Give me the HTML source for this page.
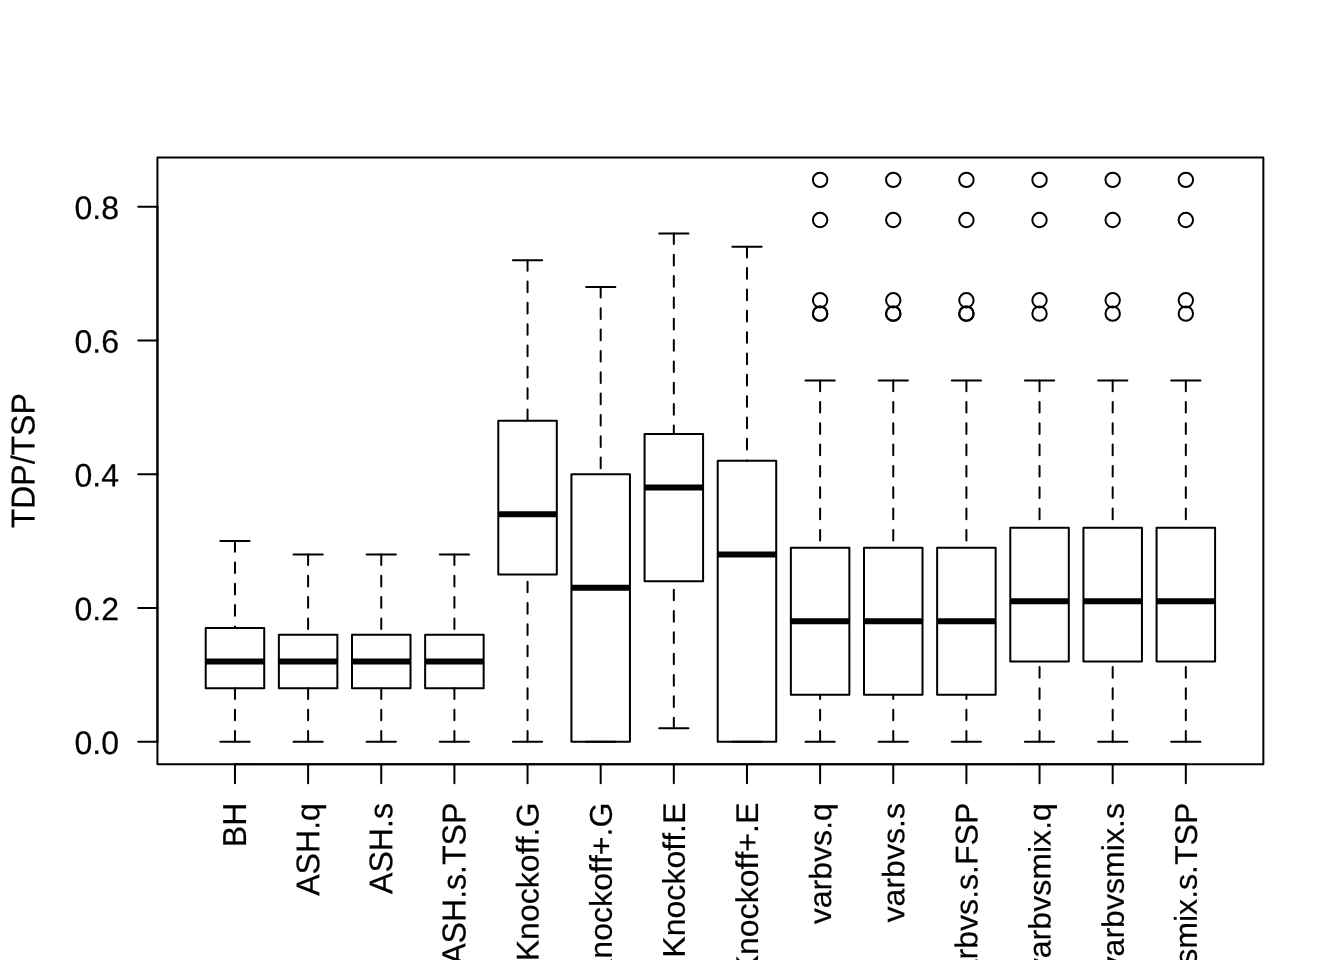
<!DOCTYPE html>
<html lang="en">
<head>
<meta charset="utf-8">
<title>TDP/TSP</title>
<style>
html,body{margin:0;padding:0;background:#fff;}
body{width:1344px;height:960px;overflow:hidden;}
svg{display:block;}
</style>
</head>
<body>
<svg width="1344" height="960" viewBox="0 0 1344 960">
<rect width="1344" height="960" fill="#fff"/>
<g fill="none" stroke="#000" stroke-width="2.00" stroke-linecap="round" stroke-linejoin="round">
<path d="M205.71 688.19H264.23V628.00H205.71Z"/>
<path stroke-width="6" stroke-linecap="butt" d="M205.71 661.43H264.23"/>
<path stroke-dasharray="10.667 10.667" d="M234.97 741.69V688.19"/>
<path d="M220.34 741.69H249.60"/>
<path stroke-dasharray="10.667 10.667" d="M234.97 541.05V628.00"/>
<path d="M220.34 541.05H249.60"/>
<path d="M278.86 688.19H337.37V634.68H278.86Z"/>
<path stroke-width="6" stroke-linecap="butt" d="M278.86 661.43H337.37"/>
<path stroke-dasharray="10.667 10.667" d="M308.11 741.69V688.19"/>
<path d="M293.49 741.69H322.74"/>
<path stroke-dasharray="10.667 10.667" d="M308.11 554.43V634.68"/>
<path d="M293.49 554.43H322.74"/>
<path d="M352.00 688.19H410.51V634.68H352.00Z"/>
<path stroke-width="6" stroke-linecap="butt" d="M352.00 661.43H410.51"/>
<path stroke-dasharray="10.667 10.667" d="M381.26 741.69V688.19"/>
<path d="M366.63 741.69H395.89"/>
<path stroke-dasharray="10.667 10.667" d="M381.26 554.43V634.68"/>
<path d="M366.63 554.43H395.89"/>
<path d="M425.14 688.19H483.66V634.68H425.14Z"/>
<path stroke-width="6" stroke-linecap="butt" d="M425.14 661.43H483.66"/>
<path stroke-dasharray="10.667 10.667" d="M454.40 741.69V688.19"/>
<path d="M439.77 741.69H469.03"/>
<path stroke-dasharray="10.667 10.667" d="M454.40 554.43V634.68"/>
<path d="M439.77 554.43H469.03"/>
<path d="M498.29 574.49H556.80V420.67H498.29Z"/>
<path stroke-width="6" stroke-linecap="butt" d="M498.29 514.30H556.80"/>
<path stroke-dasharray="10.667 10.667" d="M527.54 741.69V574.49"/>
<path d="M512.91 741.69H542.17"/>
<path stroke-dasharray="10.667 10.667" d="M527.54 260.17V420.67"/>
<path d="M512.91 260.17H542.17"/>
<path d="M571.43 741.69H629.94V474.18H571.43Z"/>
<path stroke-width="6" stroke-linecap="butt" d="M571.43 587.87H629.94"/>
<path d="M586.06 741.69H615.31"/>
<path stroke-dasharray="10.667 10.667" d="M600.69 286.92V474.18"/>
<path d="M586.06 286.92H615.31"/>
<path d="M644.57 581.18H703.09V434.05H644.57Z"/>
<path stroke-width="6" stroke-linecap="butt" d="M644.57 487.55H703.09"/>
<path stroke-dasharray="10.667 10.667" d="M673.83 728.31V581.18"/>
<path d="M659.20 728.31H688.46"/>
<path stroke-dasharray="10.667 10.667" d="M673.83 233.41V434.05"/>
<path d="M659.20 233.41H688.46"/>
<path d="M717.71 741.69H776.23V460.80H717.71Z"/>
<path stroke-width="6" stroke-linecap="butt" d="M717.71 554.43H776.23"/>
<path d="M732.34 741.69H761.60"/>
<path stroke-dasharray="10.667 10.667" d="M746.97 246.79V460.80"/>
<path d="M732.34 246.79H761.60"/>
<path d="M790.86 694.87H849.37V547.74H790.86Z"/>
<path stroke-width="6" stroke-linecap="butt" d="M790.86 621.31H849.37"/>
<path stroke-dasharray="10.667 10.667" d="M820.11 741.69V694.87"/>
<path d="M805.49 741.69H834.74"/>
<path stroke-dasharray="10.667 10.667" d="M820.11 380.55V547.74"/>
<path d="M805.49 380.55H834.74"/>
<circle cx="820.11" cy="313.67" r="7.2"/>
<circle cx="820.11" cy="300.29" r="7.2"/>
<circle cx="820.11" cy="220.04" r="7.2"/>
<circle cx="820.11" cy="179.91" r="7.2"/>
<circle cx="820.11" cy="313.67" r="7.2"/>
<path d="M864.00 694.87H922.51V547.74H864.00Z"/>
<path stroke-width="6" stroke-linecap="butt" d="M864.00 621.31H922.51"/>
<path stroke-dasharray="10.667 10.667" d="M893.26 741.69V694.87"/>
<path d="M878.63 741.69H907.89"/>
<path stroke-dasharray="10.667 10.667" d="M893.26 380.55V547.74"/>
<path d="M878.63 380.55H907.89"/>
<circle cx="893.26" cy="313.67" r="7.2"/>
<circle cx="893.26" cy="300.29" r="7.2"/>
<circle cx="893.26" cy="220.04" r="7.2"/>
<circle cx="893.26" cy="179.91" r="7.2"/>
<circle cx="893.26" cy="313.67" r="7.2"/>
<path d="M937.14 694.87H995.66V547.74H937.14Z"/>
<path stroke-width="6" stroke-linecap="butt" d="M937.14 621.31H995.66"/>
<path stroke-dasharray="10.667 10.667" d="M966.40 741.69V694.87"/>
<path d="M951.77 741.69H981.03"/>
<path stroke-dasharray="10.667 10.667" d="M966.40 380.55V547.74"/>
<path d="M951.77 380.55H981.03"/>
<circle cx="966.40" cy="313.67" r="7.2"/>
<circle cx="966.40" cy="300.29" r="7.2"/>
<circle cx="966.40" cy="220.04" r="7.2"/>
<circle cx="966.40" cy="179.91" r="7.2"/>
<circle cx="966.40" cy="313.67" r="7.2"/>
<path d="M1010.29 661.43H1068.80V527.68H1010.29Z"/>
<path stroke-width="6" stroke-linecap="butt" d="M1010.29 601.24H1068.80"/>
<path stroke-dasharray="10.667 10.667" d="M1039.54 741.69V661.43"/>
<path d="M1024.91 741.69H1054.17"/>
<path stroke-dasharray="10.667 10.667" d="M1039.54 380.55V527.68"/>
<path d="M1024.91 380.55H1054.17"/>
<circle cx="1039.54" cy="313.67" r="7.2"/>
<circle cx="1039.54" cy="300.29" r="7.2"/>
<circle cx="1039.54" cy="220.04" r="7.2"/>
<circle cx="1039.54" cy="179.91" r="7.2"/>
<path d="M1083.43 661.43H1141.94V527.68H1083.43Z"/>
<path stroke-width="6" stroke-linecap="butt" d="M1083.43 601.24H1141.94"/>
<path stroke-dasharray="10.667 10.667" d="M1112.69 741.69V661.43"/>
<path d="M1098.06 741.69H1127.31"/>
<path stroke-dasharray="10.667 10.667" d="M1112.69 380.55V527.68"/>
<path d="M1098.06 380.55H1127.31"/>
<circle cx="1112.69" cy="313.67" r="7.2"/>
<circle cx="1112.69" cy="300.29" r="7.2"/>
<circle cx="1112.69" cy="220.04" r="7.2"/>
<circle cx="1112.69" cy="179.91" r="7.2"/>
<path d="M1156.57 661.43H1215.09V527.68H1156.57Z"/>
<path stroke-width="6" stroke-linecap="butt" d="M1156.57 601.24H1215.09"/>
<path stroke-dasharray="10.667 10.667" d="M1185.83 741.69V661.43"/>
<path d="M1171.20 741.69H1200.46"/>
<path stroke-dasharray="10.667 10.667" d="M1185.83 380.55V527.68"/>
<path d="M1171.20 380.55H1200.46"/>
<circle cx="1185.83" cy="313.67" r="7.2"/>
<circle cx="1185.83" cy="300.29" r="7.2"/>
<circle cx="1185.83" cy="220.04" r="7.2"/>
<circle cx="1185.83" cy="179.91" r="7.2"/>
<path d="M234.97 764.16H1185.83"/>
<path d="M234.97 764.16v19.20"/>
<path d="M308.11 764.16v19.20"/>
<path d="M381.26 764.16v19.20"/>
<path d="M454.40 764.16v19.20"/>
<path d="M527.54 764.16v19.20"/>
<path d="M600.69 764.16v19.20"/>
<path d="M673.83 764.16v19.20"/>
<path d="M746.97 764.16v19.20"/>
<path d="M820.11 764.16v19.20"/>
<path d="M893.26 764.16v19.20"/>
<path d="M966.40 764.16v19.20"/>
<path d="M1039.54 764.16v19.20"/>
<path d="M1112.69 764.16v19.20"/>
<path d="M1185.83 764.16v19.20"/>
<path d="M157.44 741.69V206.66"/>
<path d="M157.44 741.69h-19.20"/>
<path d="M157.44 607.93h-19.20"/>
<path d="M157.44 474.18h-19.20"/>
<path d="M157.44 340.42h-19.20"/>
<path d="M157.44 206.66h-19.20"/>
<path d="M157.44 157.44H1263.36V764.16H157.44Z"/>
</g>
<g fill="#000" stroke="#000" stroke-width="0.2" stroke-linejoin="round" font-family="'Liberation Sans', Arial, Helvetica, sans-serif" font-size="32" style="font-kerning:none;font-variant-ligatures:none;text-rendering:geometricPrecision">
<text transform="translate(119.04 754.09) rotate(0.05) scale(1 1.017)" text-anchor="end">0.0</text>
<text transform="translate(119.04 620.33) rotate(0.05) scale(1 1.017)" text-anchor="end">0.2</text>
<text transform="translate(119.04 486.58) rotate(0.05) scale(1 1.017)" text-anchor="end">0.4</text>
<text transform="translate(119.04 352.82) rotate(0.05) scale(1 1.017)" text-anchor="end">0.6</text>
<text transform="translate(119.04 219.06) rotate(0.05) scale(1 1.017)" text-anchor="end">0.8</text>
<text transform="translate(246.07 802.56) rotate(-89.95) scale(1.003 1.036)" text-anchor="end">BH</text>
<text transform="translate(319.21 803.06) rotate(-89.95) scale(1.003 1.025)" text-anchor="end">ASH.q</text>
<text transform="translate(392.36 803.06) rotate(-89.95) scale(1.003 1.025)" text-anchor="end">ASH.s</text>
<text transform="translate(465.50 802.56) rotate(-89.95) scale(1.003 1.036)" text-anchor="end">ASH.s.TSP</text>
<text transform="translate(538.64 802.56) rotate(-89.95) scale(1.003 0.98)" text-anchor="end">Knockoff.G</text>
<text transform="translate(611.79 802.56) rotate(-89.95) scale(1.003 0.98)" text-anchor="end">Knockoff+.G</text>
<text transform="translate(684.93 802.56) rotate(-89.95) scale(1.003 0.98)" text-anchor="end">Knockoff.E</text>
<text transform="translate(758.07 802.56) rotate(-89.95) scale(1.003 0.98)" text-anchor="end">Knockoff+.E</text>
<text transform="translate(831.21 803.06) rotate(-89.95) scale(1.003 0.97)" text-anchor="end">varbvs.q</text>
<text transform="translate(904.36 803.06) rotate(-89.95) scale(1.003 0.97)" text-anchor="end">varbvs.s</text>
<text transform="translate(977.50 802.56) rotate(-89.95) scale(1.003 0.985)" text-anchor="end">varbvs.s.FSP</text>
<text transform="translate(1050.64 803.06) rotate(-89.95) scale(1.003 0.97)" text-anchor="end">varbvsmix.q</text>
<text transform="translate(1123.79 803.06) rotate(-89.95) scale(1.003 0.97)" text-anchor="end">varbvsmix.s</text>
<text transform="translate(1196.93 802.56) rotate(-89.95) scale(1.003 0.985)" text-anchor="end">varbvsmix.s.TSP</text>
<text transform="translate(34.56 460.80) rotate(-89.95) scale(1 1.036)" text-anchor="middle">TDP/TSP</text>
</g>
</svg>
</body>
</html>
